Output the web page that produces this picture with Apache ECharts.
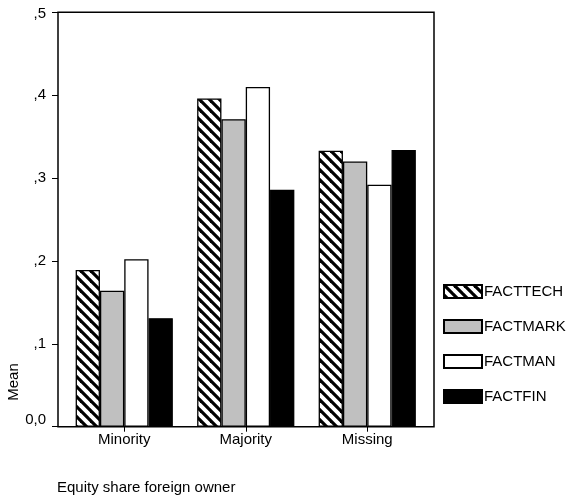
<!DOCTYPE html>
<html><head><meta charset="utf-8">
<script src="https://cdn.jsdelivr.net/npm/echarts@6/dist/echarts.min.js"></script>
<style>html,body{margin:0;padding:0;background:#fff}#c{width:573px;height:501px}</style>
</head><body><div id="c"></div>
<script>
var categories = ['Minority', 'Majority', 'Missing'];
var seriesNames = ['FACTTECH', 'FACTMARK', 'FACTMAN', 'FACTFIN'];
var factTech = [0.189, 0.396, 0.333];
var factMark = [0.164, 0.371, 0.320];
var factMan = [0.202, 0.410, 0.292];
var factFin = [0.131, 0.286, 0.334];
var yTicks = [0, 0.1, 0.2, 0.3, 0.4, 0.5];
var yTickLabels = ['0,0', ',1', ',2', ',3', ',4', ',5'];

function hatch() {
  var p = 10;
  var c = document.createElement('canvas');
  c.width = p; c.height = p;
  var g = c.getContext('2d');
  g.fillStyle = '#fff'; g.fillRect(0, 0, p, p);
  g.strokeStyle = '#000'; g.lineWidth = 3.2;
  for (var k = -1; k <= 1; k++) {
    g.beginPath(); g.moveTo(k * p - 2, -2); g.lineTo(k * p + p + 2, p + 2); g.stroke();
  }
  return c;
}
var FONT = 'Liberation Sans, Arial, sans-serif';
var FS = 15;
var chart = echarts.init(document.getElementById('c'), null, {renderer: 'canvas'});
var fills = [{image: hatch(), repeat: 'repeat'}, '#c0c0c0', '#ffffff', '#000000'];
var datas = [factTech, factMark, factMan, factFin];
var series = seriesNames.map(function (n, i) {
  return {
    name: n, type: 'bar', xAxisIndex: 0, yAxisIndex: 0,
    data: datas[i], barGap: '0%', barCategoryGap: '20%',
    itemStyle: {color: fills[i], borderColor: '#000', borderWidth: 1.3},
    emphasis: {disabled: true}, animation: false
  };
});
chart.setOption({
  animation: false,
  textStyle: {fontFamily: FONT},
  title: {text: 'Equity share foreign owner', left: 57, top: 480, padding: 0,
    textStyle: {fontSize: FS, fontWeight: 'normal', color: '#000', fontFamily: FONT}},
  legend: {
    orient: 'vertical', left: 443, top: 284, padding: 0, itemWidth: 38, itemHeight: 13, itemGap: 20,
    icon: 'rect', data: seriesNames, selectedMode: false,
    textStyle: {fontSize: FS, color: '#000', fontFamily: FONT, padding: [0, 0, 0, -3]}
  },
  grid: [
    {left: 63.5, right: 145, top: 12.3, bottom: 74.3, containLabel: false},
    {left: 58, right: 139, top: 12.3, bottom: 74.3, show: true, borderColor: '#000', borderWidth: 1.5, backgroundColor: 'transparent'},
    {left: 58, top: 362, height: 40, width: 1}
  ],
  xAxis: [
    {type: 'category', gridIndex: 0, data: categories,
      axisLine: {show: false},
      axisTick: {show: true, alignWithLabel: true, length: 5, lineStyle: {color: '#000', width: 1}},
      axisLabel: {fontSize: FS, color: '#000', margin: 6, fontFamily: FONT}},
    {type: 'value', gridIndex: 1, show: false},
    {type: 'value', gridIndex: 2, show: false}
  ],
  yAxis: [
    {type: 'value', gridIndex: 0, min: 0, max: 0.5, interval: 0.1, offset: 5.5,
      axisLine: {show: false},
      axisTick: {show: true, length: 6, lineStyle: {color: '#000', width: 1}},
      splitLine: {show: false},
      axisLabel: {fontSize: FS, color: '#000', margin: 12, fontFamily: FONT,
        rich: {z: {fontSize: FS, color: '#000', fontFamily: FONT, padding: [0, 0, 14, 0]},
               t: {fontSize: FS, color: '#000', fontFamily: FONT, padding: [4, 0, 0, 0]}},
        formatter: function (v) {
          for (var i = 0; i < yTicks.length; i++) if (Math.abs(v - yTicks[i]) < 1e-6) {
            if (i === 0) return '{z|' + yTickLabels[i] + '}';
            if (i === yTicks.length - 1) return '{t|' + yTickLabels[i] + '}';
            return yTickLabels[i];
          }
          return '';
        }}},
    {type: 'value', gridIndex: 1, show: false},
    {type: 'value', gridIndex: 2, name: 'Mean', nameLocation: 'middle', nameGap: 37,
      nameTextStyle: {fontSize: FS, color: '#000', fontFamily: FONT},
      axisLine: {show: false}, axisTick: {show: false}, axisLabel: {show: false}, splitLine: {show: false}}
  ],
  series: series
});
</script></body></html>
